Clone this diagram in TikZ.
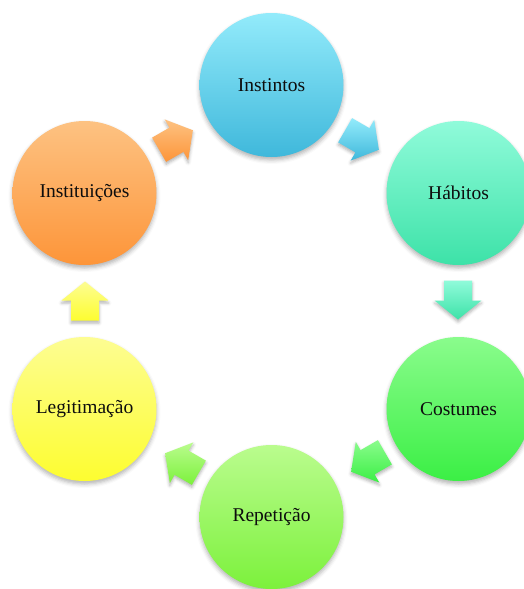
\documentclass[tikz,border=0pt]{standalone}
\usepackage{fontspec}
\setmainfont{Liberation Serif}
\usetikzlibrary{shadows.blur}
\definecolor{cyanT}{HTML}{93EBFB}\definecolor{cyanB}{HTML}{3FB8DB}
\definecolor{mintT}{HTML}{90FBDA}\definecolor{mintB}{HTML}{3DE2A8}
\definecolor{grnT}{HTML}{8AFC8C}\definecolor{grnB}{HTML}{3BEF45}
\definecolor{limeT}{HTML}{BAFC8E}\definecolor{limeB}{HTML}{7CF13C}
\definecolor{yelT}{HTML}{FDFD92}\definecolor{yelB}{HTML}{FDFD30}
\definecolor{orT}{HTML}{FDC282}\definecolor{orB}{HTML}{FD9539}
\newcommand\blockarr[4]{%
  \path[top color=#4T, bottom color=#4B, shading angle=0,
    blur shadow={shadow xshift=0pt, shadow yshift=-2.5pt, shadow blur radius=3pt, shadow opacity=30},
    shift={(#1,#2)}, rotate=#3]
    (-19.5,-14) -- (0.5,-14) -- (0.5,-23.5) -- (19.5,0) -- (0.5,23.5) -- (0.5,14) -- (-19.5,14) -- cycle;}
\begin{document}
\begin{tikzpicture}[x=1pt,y=1pt,
  stage/.style={circle, minimum size=144pt, inner sep=0pt,
    font=\fontsize{19.5}{23}\selectfont, text=black!95,
    blur shadow={shadow xshift=0pt, shadow yshift=-3pt, shadow blur radius=4pt, shadow opacity=30}}]
\useasboundingbox (0,0) rectangle (523,-589);
\node[stage, top color=cyanT, bottom color=cyanB] (ins) at (271.5,-85) {Instintos};
\node[stage, top color=mintT, bottom color=mintB] (hab) at (458.5,-193) {Hábitos};
\node[stage, top color=grnT, bottom color=grnB] (cos) at (458.5,-409) {Costumes};
\node[stage, top color=limeT, bottom color=limeB] (rep) at (271.5,-517) {Repetição};
\node[stage, top color=yelT, bottom color=yelB] (leg) at (84.5,-409) {Legitimação};
\node[stage, top color=orT, bottom color=orB] (inst) at (84.5,-193) {Instituições};
\blockarr{176}{-140}{30}{or}
\blockarr{362}{-140}{-30}{cyan}
\blockarr{458}{-300}{-90}{mint}
\blockarr{368}{-462}{-150}{grn}
\blockarr{182}{-463}{150}{lime}
\blockarr{85}{-301}{90}{yel}
\end{tikzpicture}
\end{document}
